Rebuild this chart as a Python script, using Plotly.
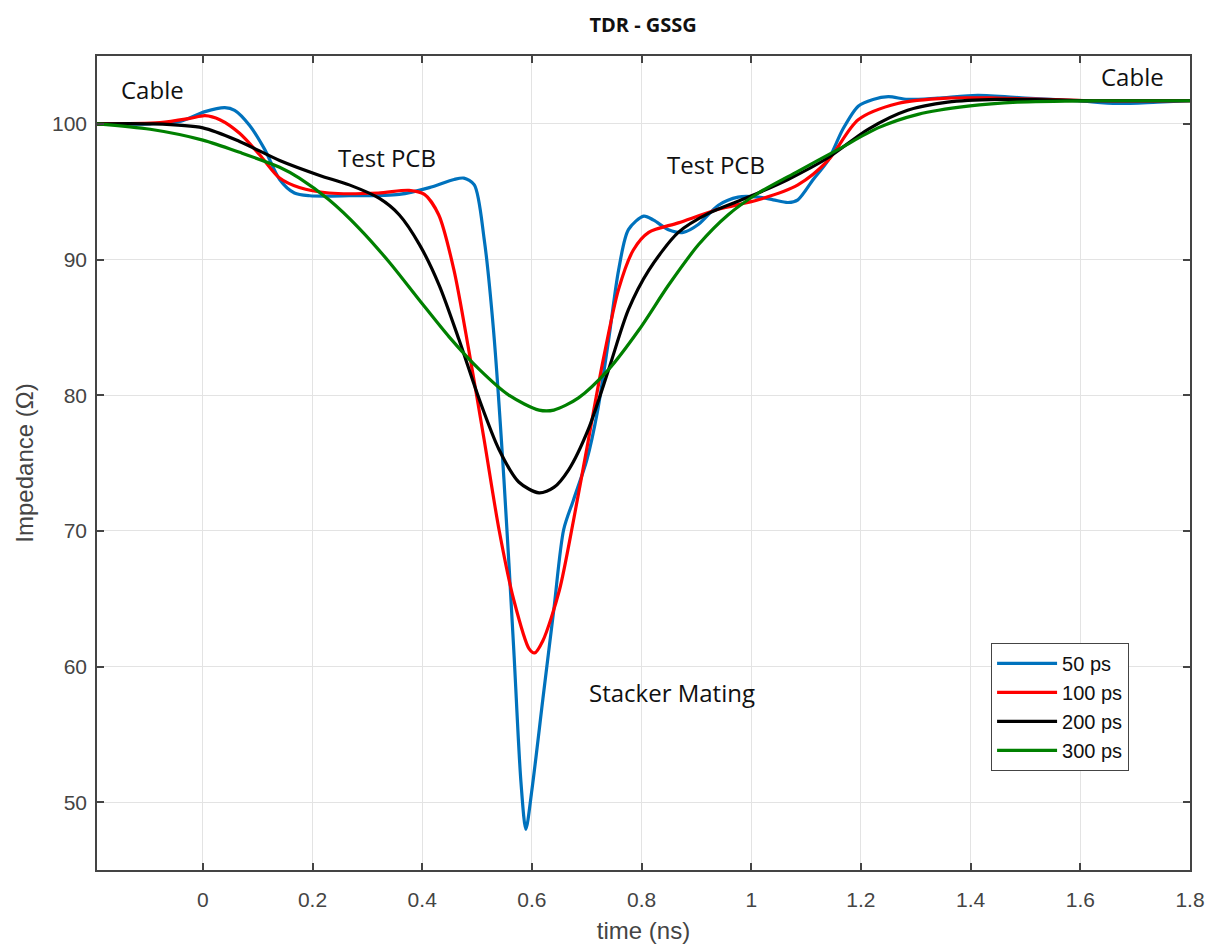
import plotly.graph_objects as go

# ---- data ----
x_50 = [-0.193, -0.096, -0.04, 0.004, 0.04, 0.058, 0.085, 0.113, 0.14, 0.167, 0.195, 0.267, 0.358, 0.413, 0.458,
        0.476, 0.495, 0.513, 0.53, 0.549, 0.567, 0.58, 0.589, 0.6, 0.62, 0.64, 0.658, 0.676, 0.70, 0.72, 0.74,
        0.758, 0.776, 0.804, 0.822, 0.849, 0.876, 0.904, 0.94, 0.976, 1.013, 1.04, 1.067, 1.085, 1.113, 1.14,
        1.167, 1.195, 1.222, 1.25, 1.285, 1.34, 1.413, 1.5, 1.595, 1.667, 1.74, 1.8]
y_50 = [100.0, 100.0, 100.2, 100.9, 101.2, 101.0, 99.9, 98.1, 95.9, 94.9, 94.7, 94.7, 94.8, 95.3, 95.9,
        96.0, 95.5, 91.5, 84.8, 73.8, 61.2, 51.5, 48.0, 50.9, 57.6, 64.2, 70.1, 72.3, 75.2, 78.9, 84.1,
        89.2, 92.2, 93.2, 92.9, 92.2, 92.0, 92.6, 94.0, 94.6, 94.6, 94.4, 94.2, 94.4, 95.9, 97.3,
        99.6, 101.3, 101.8, 102.0, 101.8, 101.9, 102.1, 101.9, 101.7, 101.5, 101.6, 101.7]

x_100 = [-0.193, -0.078, -0.024, 0.004, 0.031, 0.067, 0.104, 0.14, 0.176, 0.23, 0.32, 0.376, 0.404, 0.43,
         0.458, 0.485, 0.513, 0.54, 0.567, 0.595, 0.605, 0.62, 0.65, 0.676, 0.703, 0.73, 0.758, 0.785, 0.813,
         0.867, 0.94, 1.013, 1.085, 1.14, 1.195, 1.267, 1.358, 1.449, 1.631, 1.8]
y_100 = [100.0, 100.1, 100.4, 100.6, 100.3, 99.3, 97.7, 96.0, 95.3, 94.9, 94.9, 95.1, 94.8, 93.3,
         89.2, 83.3, 76.7, 70.1, 64.9, 61.3, 61.0, 61.9, 65.6, 70.8, 76.7, 82.6, 87.8, 90.7, 92.0,
         92.7, 93.7, 94.4, 95.5, 97.3, 100.3, 101.5, 101.9, 101.9, 101.7, 101.7]

x_200 = [-0.193, -0.096, 0.0, 0.067, 0.14, 0.213, 0.267, 0.322, 0.358, 0.395, 0.431, 0.467, 0.504, 0.54,
         0.576, 0.613, 0.64, 0.667, 0.703, 0.74, 0.776, 0.813, 0.867, 0.922, 0.995, 1.067, 1.14, 1.213,
         1.285, 1.358, 1.449, 1.631, 1.8]
y_200 = [100.0, 100.0, 99.7, 98.7, 97.3, 96.2, 95.5, 94.5, 93.3, 91.1, 88.1, 84.1, 79.7, 76.0,
         73.6, 72.8, 73.2, 74.5, 77.5, 81.9, 86.3, 89.2, 92.0, 93.4, 94.6, 95.9, 97.5, 99.6,
         101.0, 101.6, 101.8, 101.7, 101.7]

x_300 = [-0.193, -0.096, 0.0, 0.067, 0.14, 0.176, 0.23, 0.285, 0.34, 0.395, 0.449, 0.504, 0.558, 0.613,
         0.64, 0.685, 0.74, 0.795, 0.849, 0.904, 0.958, 1.013, 1.085, 1.158, 1.231, 1.304, 1.395, 1.485,
         1.631, 1.8]
y_300 = [100.0, 99.6, 98.8, 97.9, 96.8, 96.0, 94.4, 92.3, 89.8, 87.0, 84.3, 81.9, 80.0, 78.9,
         78.9, 79.8, 81.9, 84.8, 88.1, 91.1, 93.3, 94.9, 96.5, 98.1, 99.7, 100.7, 101.3, 101.6,
         101.7, 101.7]

series_names = ["50 ps", "100 ps", "200 ps", "300 ps"]
series_colors = ["#0072BD", "#FF0000", "#000000", "#008000"]
series_x = [x_50, x_100, x_200, x_300]
series_y = [y_50, y_100, y_200, y_300]

x_ticks = [0, 0.2, 0.4, 0.6, 0.8, 1, 1.2, 1.4, 1.6, 1.8]
x_tick_labels = ["0", "0.2", "0.4", "0.6", "0.8", "1", "1.2", "1.4", "1.6", "1.8"]
y_ticks = [50, 60, 70, 80, 90, 100]

labels = ["Cable", "Test PCB", "Test PCB", "Stacker Mating", "Cable"]
label_x = [-0.091, 0.336, 0.935, 0.856, 1.695]
label_y = [102.5, 97.5, 97.0, 58.1, 103.5]

fig = go.Figure()
for name, col, xs, ys in zip(series_names, series_colors, series_x, series_y):
    fig.add_trace(go.Scatter(x=xs, y=ys, mode="lines", name=name,
                             line=dict(color=col, width=3.2, shape="spline", smoothing=0.8)))

for t, ax_, ay_ in zip(labels, label_x, label_y):
    fig.add_annotation(x=ax_, y=ay_, text=t, showarrow=False,
                       font=dict(family="Open Sans, sans-serif", size=24, color="#111111"))

axis_common = dict(showline=True, linecolor="#444444", linewidth=1.5, mirror="allticks",
                   ticks="inside", ticklen=7, tickcolor="#444444", tickwidth=1.5,
                   showgrid=True, gridcolor="#e3e3e3", gridwidth=1, zeroline=False,
                   tickfont=dict(family="Liberation Sans, Arial, sans-serif", size=21, color="#444444"))

fig.update_xaxes(range=[-0.193, 1.8], tickvals=x_ticks, ticktext=x_tick_labels, ticklabelstandoff=10,
                 title=dict(text="time (ns)", font=dict(family="Liberation Sans, Arial, sans-serif", size=24, color="#444444"), standoff=12),
                 **axis_common)
fig.update_yaxes(range=[45, 105], tickvals=y_ticks, ticklabelstandoff=4,
                 title=dict(text="Impedance (Ω)", font=dict(family="Liberation Sans, Arial, sans-serif", size=24, color="#444444"), standoff=12),
                 **axis_common)

fig.update_layout(
    width=1219, height=951,
    margin=dict(l=89, r=37, t=48, b=89),
    paper_bgcolor="white", plot_bgcolor="white",
    title=dict(text="<b>TDR - GSSG</b>", x=0.521, xanchor="center", y=0.982, yanchor="middle",
               font=dict(family="Open Sans, sans-serif", size=20, color="#111111")),
    legend=dict(x=0.818, y=0.279, xanchor="left", yanchor="top",
                bordercolor="#444444", borderwidth=1, bgcolor="white",
                font=dict(family="Liberation Sans, Arial, sans-serif", size=20, color="#111111"),
                tracegroupgap=0, itemwidth=60),
    showlegend=True,
)

fig.write_html("out.html")
